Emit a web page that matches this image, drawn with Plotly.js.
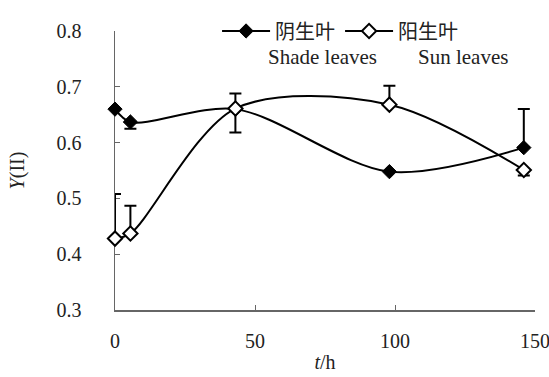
<!DOCTYPE html>
<html><head><meta charset="utf-8">
<script src="https://cdn.plot.ly/plotly-3.0.1.min.js"></script>
<style>html,body{margin:0;padding:0;background:#fff}</style>
</head><body>
<div id="chart" style="width:549px;height:377px"></div>
<script>
const hours = [0, 5.5, 43, 98, 146];
const shadeY = [0.66, 0.637, 0.66, 0.548, 0.591];
const shadeErrPlus = [0, 0, 0, 0, 0.069];
const shadeErrMinus = [0, 0.012, 0, 0, 0];
const sunY = [0.428, 0.437, 0.661, 0.668, 0.551];
const sunErrPlus = [0.08, 0.05, 0.027, 0.034, 0];
const sunErrMinus = [0, 0, 0.043, 0, 0.01];
const seriesNames = ['阴生叶', '阳生叶'];
const englishNames = ['Shade leaves', 'Sun leaves'];
const xTicks = [0, 50, 100, 150];
const yTicks = [0.3, 0.4, 0.5, 0.6, 0.7, 0.8];

const serif = 'Liberation Serif, Times New Roman, serif';
const cjk = 'Noto Sans CJK SC, sans-serif';

const traces = [
  {
    x: hours, y: shadeY, name: seriesNames[0], type: 'scatter', mode: 'lines+markers', cliponaxis: false,
    line: {color: '#000', width: 2, shape: 'spline', smoothing: 0.9},
    marker: {symbol: 'diamond', size: 11, color: '#000', line: {color: '#000', width: 1}},
    error_y: {type: 'data', symmetric: false, array: shadeErrPlus, arrayminus: shadeErrMinus, color: '#000', thickness: 2, width: 6}
  },
  {
    x: hours, y: sunY, name: seriesNames[1], type: 'scatter', mode: 'lines+markers', cliponaxis: false,
    line: {color: '#000', width: 2, shape: 'spline', smoothing: 0.9},
    marker: {symbol: 'diamond', size: 11, color: '#fff', line: {color: '#000', width: 2}},
    error_y: {type: 'data', symmetric: false, array: sunErrPlus, arrayminus: sunErrMinus, color: '#000', thickness: 2, width: 6}
  }
];

const layout = {
  width: 549, height: 377,
  margin: {l: 115, r: 14, t: 18, b: 67},
  paper_bgcolor: '#fff', plot_bgcolor: '#fff',
  showlegend: true,
  legend: {orientation: 'h', x: 0.243, xanchor: 'left', y: 1.07, yanchor: 'top',
    font: {family: cjk, size: 20, color: '#222'}, bgcolor: 'rgba(0,0,0,0)', itemwidth: 48, tracegroupgap: 0},
  xaxis: {
    range: [0, 150], tickvals: xTicks, ticktext: xTicks.map(String), layer: 'below traces',
    showgrid: false, zeroline: false, showline: true, linecolor: '#666', linewidth: 1.5,
    ticks: 'inside', ticklen: 5, tickcolor: '#666', ticklabelstandoff: 12, ticklabeloverflow: 'allow',
    tickfont: {family: serif, size: 20, color: '#222'},
    title: {text: '<i>t</i>/h', font: {family: serif, size: 20, color: '#222'}, standoff: 4}
  },
  yaxis: {
    range: [0.3, 0.8], tickvals: yTicks, ticktext: yTicks.map(v => v.toFixed(1)), layer: 'below traces',
    showgrid: false, zeroline: false, showline: true, linecolor: '#666', linewidth: 1.5,
    ticks: 'inside', ticklen: 5, tickcolor: '#666', ticklabelstandoff: 28, ticklabeloverflow: 'allow',
    tickfont: {family: serif, size: 20, color: '#222'},
    title: {text: '<i>Y</i>(II)', font: {family: serif, size: 20, color: '#222'}, standoff: 26}
  },
  annotations: [
    {text: englishNames[0], xref: 'paper', yref: 'paper', x: 0.493, y: 0.907, xanchor: 'center', yanchor: 'middle', showarrow: false, font: {family: serif, size: 21, color: '#222'}},
    {text: englishNames[1], xref: 'paper', yref: 'paper', x: 0.829, y: 0.907, xanchor: 'center', yanchor: 'middle', showarrow: false, font: {family: serif, size: 21, color: '#222'}}
  ]
};
Plotly.newPlot('chart', traces, layout, {displayModeBar: false, staticPlot: true});
</script>
</body></html>
